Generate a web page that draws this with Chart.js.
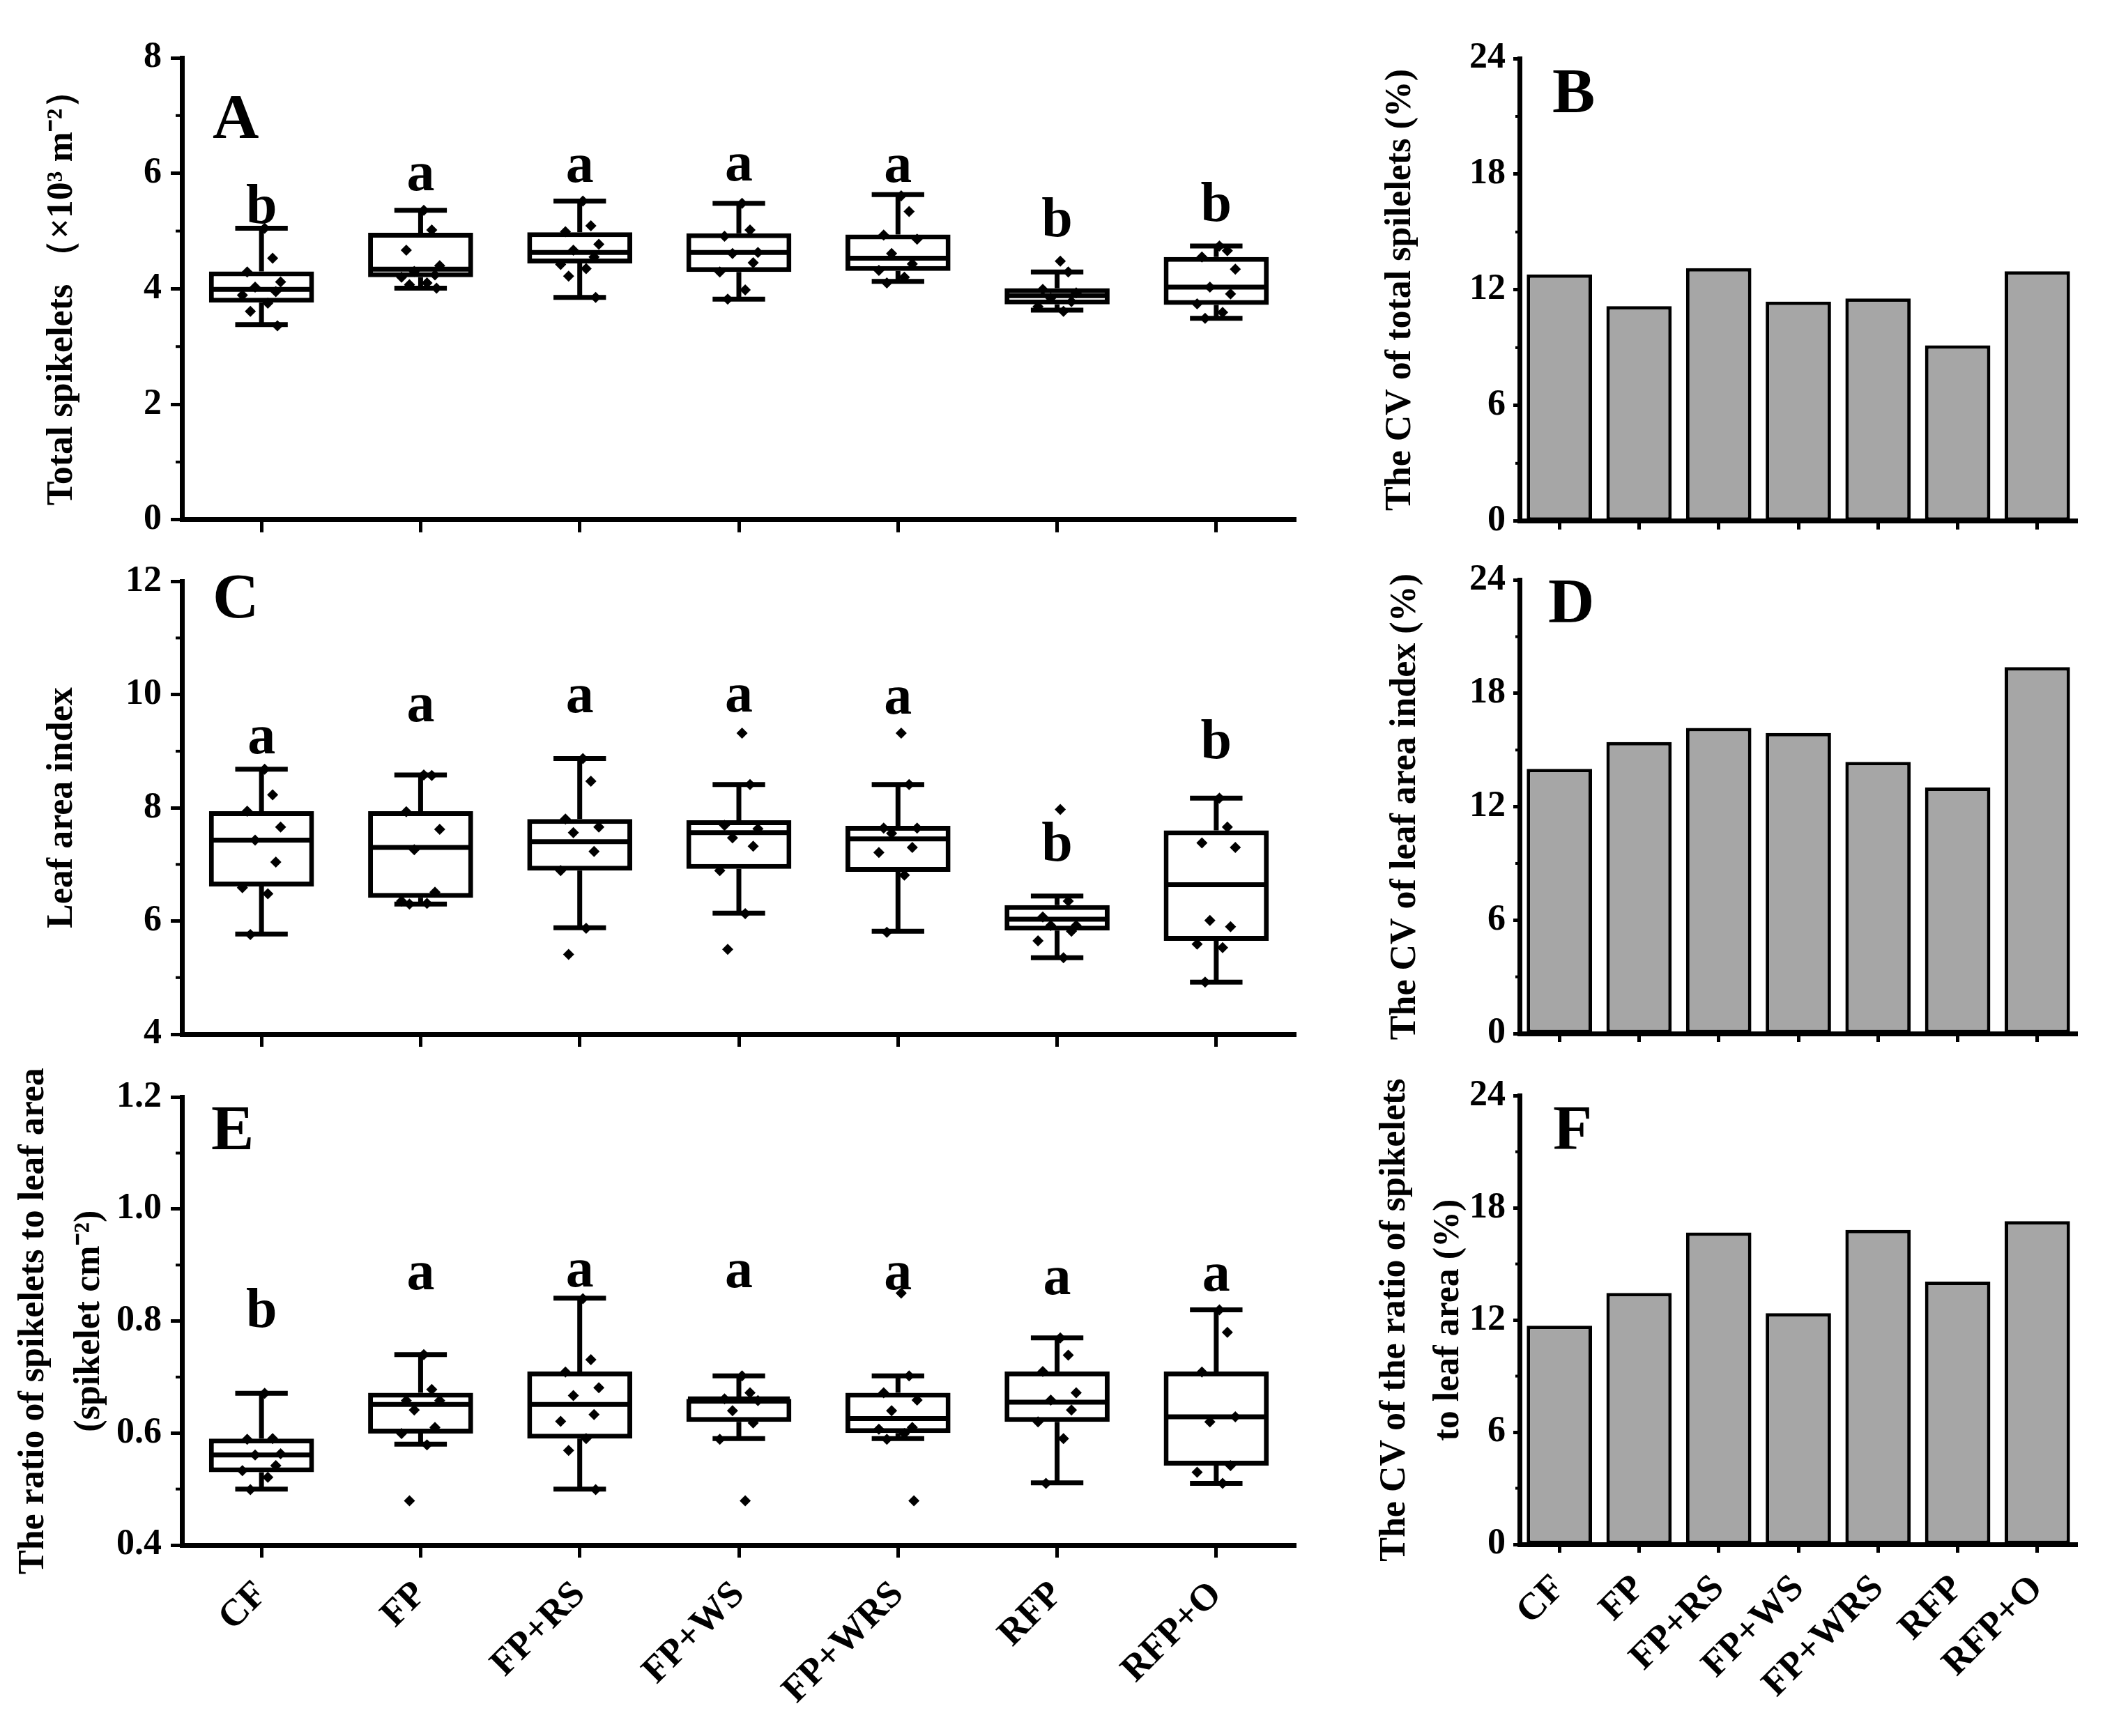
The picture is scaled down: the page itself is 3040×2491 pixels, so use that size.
<!DOCTYPE html>
<html>
<head>
<meta charset="utf-8">
<script src="https://cdn.jsdelivr.net/npm/chart.js@4.4.1/dist/chart.umd.min.js"></script>
<style>
  body { margin: 0; background: #fff; }
  canvas { position: absolute; }
</style>
</head>
<body>
<canvas id="chartA" width="1900" height="790" style="left:0;top:0"></canvas>
<canvas id="chartC" width="1900" height="740" style="left:0;top:790px"></canvas>
<canvas id="chartE" width="1900" height="961" style="left:0;top:1530px"></canvas>
<canvas id="chartB" width="1140" height="790" style="left:1900px;top:0"></canvas>
<canvas id="chartD" width="1140" height="740" style="left:1900px;top:790px"></canvas>
<canvas id="chartF" width="1140" height="961" style="left:1900px;top:1530px"></canvas>
<script>
const categories = ['CF', 'FP', 'FP+RS', 'FP+WS', 'FP+WRS', 'RFP', 'RFP+O'];

// A - total spikelets, box = [low whisker, Q1, median, Q3, high whisker]
const spikeletsBox = [
  [3.38, 3.76, 3.99, 4.30, 5.05],
  [4.01, 4.20, 4.34, 4.97, 5.36],
  [3.85, 4.44, 4.63, 4.98, 5.52],
  [3.82, 4.29, 4.63, 4.96, 5.48],
  [4.13, 4.31, 4.53, 4.94, 5.63],
  [3.63, 3.73, 3.88, 4.01, 4.29],
  [3.49, 3.72, 4.03, 4.55, 4.74]
];
const spikeletsPoints = [
  [5.05, 4.53, 4.29, 4.12, 4.03, 3.95, 3.89, 3.75, 3.61, 3.36],
  [5.36, 5.02, 4.67, 4.40, 4.30, 4.24, 4.20, 4.10, 4.07, 4.01],
  [5.52, 5.09, 4.99, 4.77, 4.67, 4.55, 4.42, 4.35, 4.22, 3.85],
  [5.48, 5.02, 4.91, 4.63, 4.61, 4.45, 4.29, 3.98, 3.82],
  [5.61, 5.34, 4.93, 4.86, 4.61, 4.43, 4.32, 4.20, 4.10],
  [4.48, 4.29, 3.99, 3.93, 3.84, 3.78, 3.69, 3.61],
  [4.74, 4.66, 4.55, 4.34, 4.03, 3.91, 3.74, 3.59, 3.49]
];
const spikeletsLetters = ['b', 'a', 'a', 'a', 'a', 'b', 'b'];
const spikeletsLetterAt = [5.14, 5.71, 5.85, 5.88, 5.85, 4.91, 5.17];

// C - leaf area index
const laiBox = [
  [5.77, 6.61, 7.43, 7.94, 8.68],
  [6.30, 6.41, 7.30, 7.94, 8.58],
  [5.88, 6.89, 7.40, 7.80, 8.87],
  [6.14, 6.92, 7.56, 7.78, 8.41],
  [5.82, 6.87, 7.45, 7.68, 8.41],
  [5.35, 5.83, 6.03, 6.28, 6.44],
  [4.92, 5.65, 6.64, 7.60, 8.17]
];
const laiPoints = [
  [8.68, 8.23, 7.94, 7.66, 7.43, 7.04, 6.59, 6.48, 5.76],
  [8.58, 8.57, 7.93, 7.62, 7.26, 6.51, 6.35, 6.31, 6.30],
  [8.87, 8.47, 7.80, 7.66, 7.56, 7.23, 6.89, 5.87, 5.41],
  [9.32, 8.41, 7.69, 7.63, 7.47, 7.32, 6.89, 6.13, 5.50],
  [9.32, 8.41, 7.64, 7.64, 7.55, 7.30, 7.21, 6.81, 5.80],
  [7.97, 6.35, 6.07, 5.92, 5.92, 5.82, 5.65, 5.35],
  [8.17, 7.66, 7.38, 7.30, 6.01, 5.90, 5.59, 5.53, 4.92]
];
const laiLetters = ['a', 'a', 'a', 'a', 'a', 'b', 'b'];
const laiLetterAt = [8.96, 9.53, 9.69, 9.70, 9.66, 7.06, 8.88];

// E - ratio of spikelets to leaf area
const ratioBox = [
  [0.500, 0.530, 0.561, 0.590, 0.671],
  [0.580, 0.599, 0.651, 0.672, 0.740],
  [0.500, 0.590, 0.651, 0.710, 0.841],
  [0.590, 0.620, 0.661, 0.661, 0.702],
  [0.590, 0.600, 0.626, 0.672, 0.702],
  [0.511, 0.620, 0.655, 0.710, 0.770],
  [0.510, 0.542, 0.629, 0.710, 0.820]
];
const ratioPoints = [
  [0.671, 0.590, 0.589, 0.563, 0.561, 0.542, 0.533, 0.521, 0.499],
  [0.740, 0.678, 0.658, 0.658, 0.641, 0.610, 0.599, 0.579, 0.479],
  [0.840, 0.731, 0.709, 0.681, 0.667, 0.633, 0.621, 0.590, 0.569, 0.499],
  [0.702, 0.672, 0.661, 0.658, 0.640, 0.618, 0.589, 0.479],
  [0.850, 0.702, 0.672, 0.659, 0.640, 0.610, 0.607, 0.599, 0.589, 0.479],
  [0.770, 0.739, 0.710, 0.672, 0.659, 0.641, 0.620, 0.590, 0.510],
  [0.820, 0.780, 0.709, 0.629, 0.620, 0.542, 0.530, 0.510]
];
const ratioLetters = ['b', 'a', 'a', 'a', 'a', 'a', 'a'];
const ratioLetterAt = [0.789, 0.857, 0.862, 0.860, 0.857, 0.848, 0.854];

// B, D, F - coefficients of variation (%)
const cvSpikelets = [12.80, 11.16, 13.13, 11.39, 11.55, 9.12, 12.96];
const cvLai = [14.00, 15.42, 16.17, 15.90, 14.37, 13.02, 19.39];
const cvRatio = [11.70, 13.45, 16.68, 12.37, 16.82, 14.05, 17.29];

const FONT = '"Liberation Serif", "Times New Roman", serif';
Chart.defaults.font.family = FONT;
Chart.defaults.font.weight = 'bold';
Chart.defaults.color = '#000';
Chart.defaults.animation = false;
Chart.defaults.plugins.legend.display = false;
Chart.defaults.plugins.tooltip.enabled = false;

// horizontal spread of the dots inside a box (fraction of one category)
const JITTER = [0.02, 0.07, -0.09, 0.12, -0.04, 0.09, -0.12, 0.04, -0.07, 0.10];

// whiskers, caps, medians, minor ticks, letters
const decor = {
  id: 'decor',
  afterDatasetDraw(chart, args, o) {
    if (args.index !== 0 || !o.stats) return;
    const ctx = chart.ctx, xs = chart.scales.x, ys = chart.scales.y;
    const slot = xs.getPixelForValue(1) - xs.getPixelForValue(0);
    const capW = slot * 0.165, boxW = slot * 0.32;
    ctx.save();
    ctx.strokeStyle = '#000';
    ctx.lineWidth = 7;
    o.stats.forEach((s, i) => {
      const cx = xs.getPixelForValue(i);
      const [lo, q1, med, q3, hi] = s.map(v => ys.getPixelForValue(v));
      ctx.beginPath();
      ctx.moveTo(cx, hi); ctx.lineTo(cx, q3);
      ctx.moveTo(cx, q1); ctx.lineTo(cx, lo);
      ctx.moveTo(cx - capW, hi); ctx.lineTo(cx + capW, hi);
      ctx.moveTo(cx - capW, lo); ctx.lineTo(cx + capW, lo);
      ctx.moveTo(cx - boxW, med); ctx.lineTo(cx + boxW, med);
      ctx.stroke();
    });
    ctx.restore();
  },
  afterDraw(chart, args, o) {
    const ctx = chart.ctx, area = chart.chartArea, xs = chart.scales.x, ys = chart.scales.y;
    ctx.save();
    ctx.strokeStyle = '#000';
    ctx.lineWidth = 4;
    for (let v = ys.min + o.minor; v < ys.max; v += 2 * o.minor) {
      const y = ys.getPixelForValue(v);
      ctx.beginPath();
      ctx.moveTo(area.left - o.minorLen, y);
      ctx.lineTo(area.left, y);
      ctx.stroke();
    }
    ctx.fillStyle = '#000';
    if (o.letters) {
      ctx.font = 'bold 80px ' + FONT;
      ctx.textAlign = 'center';
      ctx.textBaseline = 'alphabetic';
      o.letters.forEach((t, i) => ctx.fillText(t, xs.getPixelForValue(i), ys.getPixelForValue(o.letterAt[i])));
    }
    ctx.font = 'bold 92px ' + FONT;
    ctx.textAlign = 'left';
    ctx.textBaseline = 'alphabetic';
    ctx.fillText(o.panel, area.left + o.panelX, area.top + o.panelY);
    ctx.restore();
  }
};

function yAxis(min, max, step, title, width, titlePad, lineHeight, tickLen, fmt) {
  return {
    min: min, max: max,
    ticks: { stepSize: step, padding: tickLen === 16 ? 13 : 11, font: { size: 52 }, callback: fmt || (v => v) },
    border: { color: '#000', width: 7 },
    grid: { drawOnChartArea: false, tickLength: tickLen, tickWidth: 5, color: '#000' },
    title: { display: true, text: title, font: { size: 52, lineHeight: lineHeight }, padding: { top: titlePad, bottom: 0 } },
    afterFit(axis) { axis.width = width; }
  };
}

function boxChart(id, stats, points, letters, letterAt, yOpts, showLabels, pad, xHeight, extra) {
  const dots = [];
  points.forEach((arr, i) => arr.forEach((v, j) => dots.push({ x: i + JITTER[j % JITTER.length], y: v })));
  new Chart(document.getElementById(id), {
    type: 'bar',
    data: {
      datasets: [{
        data: stats.map((s, i) => ({ x: i, y: [s[1], s[3]] })),
        backgroundColor: '#fff',
        borderColor: '#000',
        borderWidth: 7,
        borderSkipped: false,
        barPercentage: 0.66,
        categoryPercentage: 1,
        order: 2
      }, {
        type: 'scatter',
        data: dots,
        pointStyle: 'rectRot',
        pointRadius: 8,
        pointBackgroundColor: '#000',
        pointBorderWidth: 0,
        order: 1
      }]
    },
    options: {
      responsive: false,
      devicePixelRatio: 1,
      layout: { padding: { top: pad, right: 41, left: 0, bottom: 0 } },
      scales: {
        x: {
          type: 'linear', min: -0.5, max: 6.5, offset: false,
          afterBuildTicks(axis) { axis.ticks = categories.map((c, i) => ({ value: i })); },
          ticks: { display: showLabels, autoSkip: false, minRotation: 45, maxRotation: 45, padding: 22, font: { size: 54 }, callback: v => categories[v] },
          border: { color: '#000', width: 7 },
          grid: { offset: false, drawOnChartArea: false, tickLength: 18, tickWidth: 5, color: '#000' },
          afterFit(axis) { axis.height = xHeight; }
        },
        y: yOpts
      },
      plugins: { decor: Object.assign({ stats: stats, letters: letters, letterAt: letterAt, minorLen: 9 }, extra) }
    },
    plugins: [decor]
  });
}

function barChart(id, values, title, titlePad, lineHeight, showLabels, pad, xHeight, extra) {
  new Chart(document.getElementById(id), {
    type: 'bar',
    data: {
      labels: categories,
      datasets: [{
        data: values,
        backgroundColor: '#a6a6a6',
        borderColor: '#000',
        borderWidth: 5,
        borderSkipped: false,
        barPercentage: 0.82,
        categoryPercentage: 1
      }]
    },
    options: {
      responsive: false,
      devicePixelRatio: 1,
      layout: { padding: { top: pad, right: 60, left: 0, bottom: 0 } },
      scales: {
        x: {
          offset: true,
          ticks: { display: showLabels, autoSkip: false, minRotation: 45, maxRotation: 45, padding: 20, font: { size: 54 } },
          border: { color: '#000', width: 7 },
          grid: { offset: false, drawOnChartArea: false, tickLength: 12, tickWidth: 5, color: '#000' },
          afterFit(axis) { axis.height = xHeight; }
        },
        y: yAxis(0, 24, 6, title, 280, titlePad, lineHeight, 9)
      },
      plugins: { decor: Object.assign({ minorLen: 6 }, extra) }
    },
    plugins: [decor]
  });
}

boxChart('chartA', spikeletsBox, spikeletsPoints, spikeletsLetters, spikeletsLetterAt,
  yAxis(0, 8, 2, 'Total spikelets （×10³ m⁻²）', 261, 58, 1.2, 16),
  false, 83, 42, { minor: 1, panel: 'A', panelX: 44, panelY: 115 });

boxChart('chartC', laiBox, laiPoints, laiLetters, laiLetterAt,
  yAxis(4, 12, 2, 'Leaf area index', 261, 58, 1.2, 16),
  false, 28, 46, { minor: 1, panel: 'C', panelX: 44, panelY: 52 });

boxChart('chartE', ratioBox, ratioPoints, ratioLetters, ratioLetterAt,
  yAxis(0.4, 1.2, 0.2, ['The ratio of spikelets to leaf area', '(spikelet cm⁻²)'], 261, 8, 1.55, 16, v => v.toFixed(1)),
  true, 21, 274, { minor: 0.1, panel: 'E', panelX: 42, panelY: 75 });

barChart('chartB', cvSpikelets, 'The CV of total spilelets (%)', 78, 1.2, false, 84, 41,
  { minor: 3, panel: 'B', panelX: 47, panelY: 77 });

barChart('chartD', cvLai, 'The CV of leaf area index (%)', 85, 1.2, false, 29, 47,
  { minor: 3, panel: 'D', panelX: 41, panelY: 61 });

barChart('chartF', cvRatio, ['The CV of the ratio of spikelets', 'to leaf area (%)'], 63, 1.48, true, 19, 275,
  { minor: 3, panel: 'F', panelX: 48, panelY: 77 });
</script>
</body>
</html>
